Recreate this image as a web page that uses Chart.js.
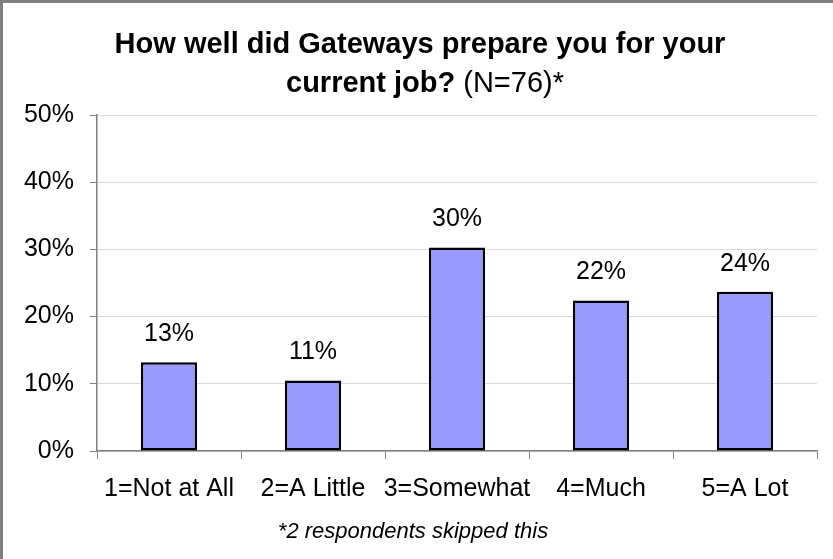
<!DOCTYPE html>
<html>
<head>
<meta charset="utf-8">
<style>
  html, body { margin: 0; padding: 0; background: #ffffff; }
  #wrap { width: 833px; height: 559px; position: relative; }
</style>
<script src="https://cdn.jsdelivr.net/npm/chart.js@4/dist/chart.umd.min.js"></script>
</head>
<body>
<div id="wrap"><canvas id="chart" width="833" height="559"></canvas></div>
<script>
// Survey answers: share of respondents (N=76) per rating
const categories = ['1=Not at All', '2=A Little', '3=Somewhat', '4=Much', '5=A Lot'];
const shares = [13.2, 10.5, 30.3, 22.4, 23.7];
const yTickValues = [0, 10, 20, 30, 40, 50];

const titleLine1 = 'How well did Gateways prepare you for your';
const titleLine2Bold = 'current job? ';
const titleLine2Plain = '(N=76)*';
const footnote = '*2 respondents skipped this';

const FONT = '"Liberation Sans", Arial, Helvetica, sans-serif';

// Page frame, two-weight title and footnote
const decorations = {
  id: 'decorations',
  beforeDraw(chart) {
    const ctx = chart.ctx;
    ctx.save();
    ctx.fillStyle = '#ffffff';
    ctx.fillRect(0, 0, chart.width, chart.height);
    ctx.restore();
  },
  afterDraw(chart) {
    const ctx = chart.ctx;
    ctx.save();
    ctx.strokeStyle = '#808080';
    ctx.lineWidth = 3;
    ctx.strokeRect(1.5, 1.5, chart.width + 10, chart.height + 10);

    ctx.fillStyle = '#000000';
    ctx.textBaseline = 'alphabetic';
    ctx.textAlign = 'center';
    ctx.font = 'bold 29px ' + FONT;
    ctx.fillText(titleLine1, 420, 53);

    ctx.textAlign = 'left';
    const wBold = ctx.measureText(titleLine2Bold).width;
    ctx.font = '29px ' + FONT;
    const wPlain = ctx.measureText(titleLine2Plain).width;
    const x0 = 425 - (wBold + wPlain) / 2;
    ctx.font = 'bold 29px ' + FONT;
    ctx.fillText(titleLine2Bold, x0, 92);
    ctx.font = '29px ' + FONT;
    ctx.fillText(titleLine2Plain, x0 + wBold, 92);

    ctx.font = 'italic 22px ' + FONT;
    ctx.textAlign = 'center';
    ctx.textBaseline = 'middle';
    ctx.fillText(footnote, 413, 532);
    ctx.restore();
  }
};

// Percentage labels above each bar
const barLabels = {
  id: 'barLabels',
  afterDatasetsDraw(chart) {
    const ctx = chart.ctx;
    const meta = chart.getDatasetMeta(0);
    ctx.save();
    ctx.fillStyle = '#000000';
    ctx.font = '25px ' + FONT;
    ctx.textAlign = 'center';
    ctx.textBaseline = 'middle';
    meta.data.forEach((bar, i) => {
      const v = chart.data.datasets[0].data[i];
      ctx.fillText(Math.round(v) + '%', bar.x, bar.y - 28);
    });
    ctx.restore();
  }
};

new Chart(document.getElementById('chart'), {
  type: 'bar',
  data: {
    labels: categories,
    datasets: [{
      data: shares,
      backgroundColor: '#9999ff',
      borderColor: '#000000',
      borderWidth: 2.5,
      borderSkipped: false,
      categoryPercentage: 1.0,
      barPercentage: 0.39
    }]
  },
  options: {
    responsive: false,
    animation: false,
    devicePixelRatio: 1,
    layout: { padding: { top: 115, right: 16, left: 0, bottom: 0 } },
    plugins: {
      legend: { display: false },
      title: { display: false },
      tooltip: { enabled: false }
    },
    scales: {
      x: {
        offset: true,
        grid: {
          offset: true,
          drawOnChartArea: false,
          drawTicks: true,
          tickLength: 8,
          tickColor: '#808080',
          lineWidth: 1
        },
        border: { color: '#808080', width: 1.5 },
        ticks: {
          color: '#000000',
          font: { family: FONT, size: 25 },
          padding: 15,
          maxRotation: 0,
          autoSkip: false
        },
        afterFit(scale) { scale.height = 108; }
      },
      y: {
        min: 0,
        max: 50,
        afterBuildTicks(scale) {
          scale.ticks = yTickValues.map(v => ({ value: v }));
        },
        grid: {
          color: '#d9d9d9',
          lineWidth: 1,
          drawTicks: true,
          tickLength: 7,
          tickColor: '#808080'
        },
        border: { color: '#808080', width: 1.5 },
        ticks: {
          color: '#000000',
          font: { family: FONT, size: 25 },
          padding: 16,
          callback: v => v + '%'
        },
        afterFit(scale) { scale.width = 97; }
      }
    }
  },
  plugins: [decorations, barLabels]
});
</script>
</body>
</html>
